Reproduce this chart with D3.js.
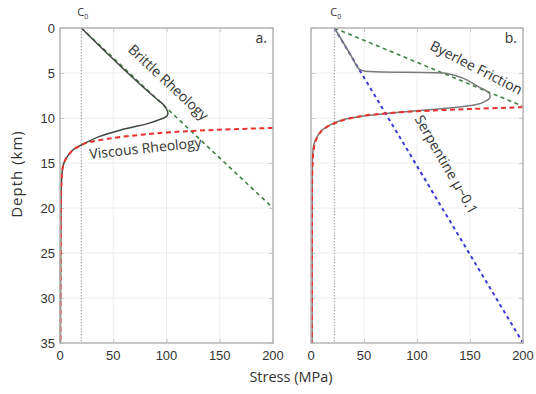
<!DOCTYPE html>
<html>
<head>
<meta charset="utf-8">
<script src="https://cdn.jsdelivr.net/npm/d3@7"></script>
<style>
  body { margin: 0; background: #fff; }
  svg text { font-family: "Open Sans", "Noto Sans", sans-serif; fill: #333; }
  .tick-num { font-family: "Liberation Sans", Arial, sans-serif; font-size: 13px; }
</style>
</head>
<body>
<svg id="chart" width="536" height="394"></svg>
<script>
// ---- data: [stress MPa, depth km] ----
const xTicks = [0, 50, 100, 150, 200];
const yTicks = [0, 5, 10, 15, 20, 25, 30, 35];
const c0A = 20;
const c0B = 22;

// panel a
const brittleA = [[20, 0], [200, 20]];
const viscousA = [[200, 11.1], [150, 11.3], [114, 11.5], [73, 11.9], [45, 12.3], [27, 12.7],
  [17, 13.2], [8, 14.1], [4, 14.9], [2, 16], [1, 18.5], [0.6, 25], [0.4, 35]];
const strengthA = [[20, 0], [90, 7.8], [97, 8.5], [100, 9.0], [101.4, 9.5], [99, 9.9], [93, 10.2],
  [83, 10.6], [58, 11.3], [36, 12.1], [23.5, 12.8], [15, 13.3], [8, 14.1], [4, 14.9],
  [2, 16], [1, 18.5], [0.6, 25], [0.4, 35]];

// panel b
const byerleeB = [[22, 0], [200, 8.7]];
const serpentineB = [[22, 0], [200, 35]];
const viscousB = [[200, 8.8], [150, 9.0], [100, 9.25], [60, 9.6], [35, 10.1], [22, 10.6],
  [12, 11.2], [7, 11.9], [4, 12.7], [2.5, 13.5], [1.5, 15], [1, 18], [0.8, 35]];
const strengthB = [[22, 0], [40, 3.55], [43, 4.2], [46, 4.6], [50, 4.78], [60, 4.85], [126, 5.0],
  [160, 6.65], [165, 6.95], [168.5, 7.3], [169, 7.63], [165, 8.1], [156, 8.5], [130, 8.9],
  [100, 9.2], [71, 9.5], [37, 10.0], [21, 10.6], [12, 11.2], [8, 11.7], [4, 12.5],
  [2.2, 13.3], [1.2, 15], [1, 20], [1, 35]];

const svg = d3.select("#chart");
const plotTop = 28, plotBottom = 343;
const y = d3.scaleLinear().domain([0, 35]).range([plotTop, plotBottom]);

function panel(x0, x1, label, c0, draw) {
  const x = d3.scaleLinear().domain([0, 200]).range([x0, x1]);
  const g = svg.append("g");

  // faint grid
  g.selectAll(".gx").data(xTicks.slice(1, -1)).enter().append("line")
    .attr("x1", d => x(d)).attr("x2", d => x(d)).attr("y1", plotTop).attr("y2", plotBottom)
    .attr("stroke", "#eeeeee").attr("stroke-width", 1);
  g.selectAll(".gy").data(yTicks.slice(1, -1)).enter().append("line")
    .attr("x1", x0).attr("x2", x1).attr("y1", d => y(d)).attr("y2", d => y(d))
    .attr("stroke", "#eeeeee").attr("stroke-width", 1);

  // inner ticks via d3 axes
  const ax = [
    [d3.axisBottom(x).tickValues(xTicks).tickSize(-4).tickFormat(""), `translate(0,${plotBottom})`],
    [d3.axisTop(x).tickValues(xTicks).tickSize(-4).tickFormat(""), `translate(0,${plotTop})`],
    [d3.axisLeft(y).tickValues(yTicks).tickSize(-4).tickFormat(""), `translate(${x0},0)`],
    [d3.axisRight(y).tickValues(yTicks).tickSize(-4).tickFormat(""), `translate(${x1},0)`]
  ];
  ax.forEach(([a, t]) => {
    const s = g.append("g").attr("transform", t).call(a);
    s.select(".domain").remove();
    s.selectAll("line").attr("stroke", "#c8c8c8");
  });

  // x tick labels
  g.selectAll(".xl").data(xTicks).enter().append("text")
    .attr("class", "tick-num")
    .attr("x", d => x(d)).attr("y", plotBottom + 17)
    .attr("text-anchor", "middle").text(d => d);

  // C0 dotted line
  g.append("line").attr("x1", x(c0)).attr("x2", x(c0)).attr("y1", plotTop).attr("y2", plotBottom)
    .attr("stroke", "#999").attr("stroke-width", 1).attr("stroke-dasharray", "1.5,1.5");
  const ct = g.append("text").attr("x", x(c0) - 4).attr("y", plotTop - 12).attr("font-size", 11);
  ct.append("tspan").text("C");
  ct.append("tspan").attr("font-size", 7).attr("dy", 3).text("0");

  draw(g, x);

  // frame
  g.append("rect").attr("x", x0).attr("y", plotTop).attr("width", x1 - x0).attr("height", plotBottom - plotTop)
    .attr("fill", "none").attr("stroke", "#b4b4b4").attr("stroke-width", 1.5);

  g.append("text").attr("x", x1 - 6).attr("y", plotTop + 15).attr("text-anchor", "end")
    .attr("font-size", 14).text(label);
  return x;
}

function path(g, x, pts, color, width, dash, curve) {
  const line = d3.line().x(d => x(d[0])).y(d => y(d[1])).curve(curve || d3.curveLinear);
  g.append("path").datum(pts).attr("d", line).attr("fill", "none")
    .attr("stroke", color).attr("stroke-width", width)
    .attr("stroke-dasharray", dash || null).attr("stroke-linejoin", "round");
}

function rotLabel(g, px, py, angle, text) {
  g.append("text").attr("transform", `translate(${px},${py}) rotate(${angle})`)
    .attr("text-anchor", "middle").attr("font-size", 14).attr("fill", "#333").text(text);
}

panel(60, 273, "a.", c0A, (g, x) => {
  path(g, x, brittleA, "#3f7f3f", 1.6, "4,3.5");
  path(g, x, strengthA, "#404a40", 1.5, null, d3.curveMonotoneY);
  path(g, x, viscousA, "#e8322c", 2, "5,3.5", d3.curveMonotoneY);
  rotLabel(g, 165, 86, 43, "Brittle Rheology");
  rotLabel(g, 146, 153, -6, "Viscous Rheology");
});

panel(311, 523, "b.", c0B, (g, x) => {
  path(g, x, byerleeB, "#3f7f3f", 1.6, "4,3.5");
  path(g, x, serpentineB, "#3a3ad8", 2, "3.5,3.5");
  path(g, x, strengthB, "#7a7a7a", 1.5, null, d3.curveMonotoneY);
  path(g, x, viscousB, "#e8322c", 2, "5,3.5", d3.curveMonotoneY);
  rotLabel(g, 474, 72, 27, "Byerlee Friction");
  rotLabel(g, 442, 167, 60, "Serpentine \u03bc~0.1");
});

// y tick labels (left panel only)
svg.selectAll(".yl").data(yTicks).enter().append("text")
  .attr("class", "tick-num")
  .attr("x", 55).attr("y", d => y(d) + 5)
  .attr("text-anchor", "end").text(d => d);

svg.append("text").attr("transform", "translate(22,174) rotate(-90)")
  .attr("text-anchor", "middle").attr("font-size", 15).attr("letter-spacing", 1).text("Depth (km)");
svg.append("text").attr("x", 291).attr("y", 382)
  .attr("text-anchor", "middle").attr("font-size", 14.5).text("Stress (MPa)");
</script>
</body>
</html>
